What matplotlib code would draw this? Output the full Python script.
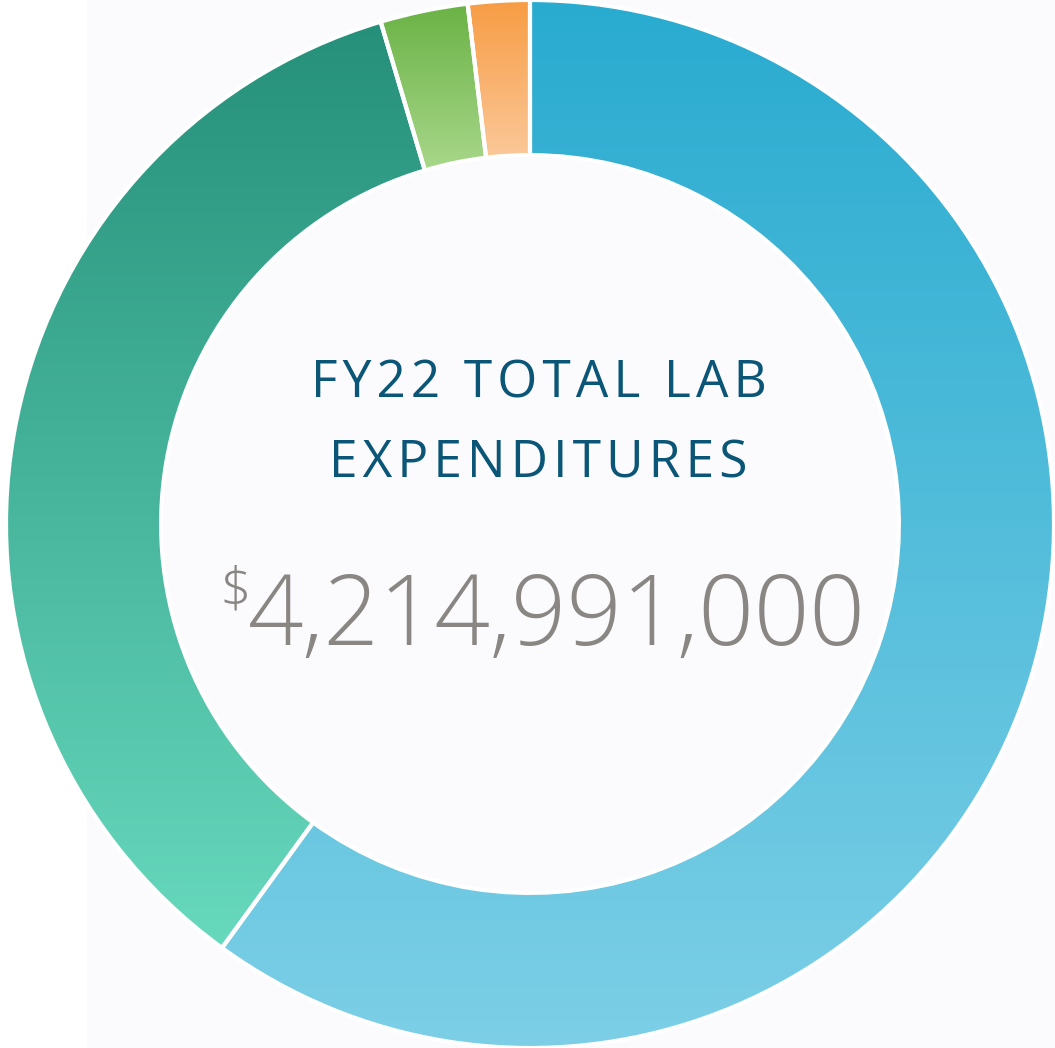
"""Donut chart: FY22 total lab expenditures, gradient-filled segments."""
import numpy as np
import matplotlib
matplotlib.use('Agg')
import matplotlib.pyplot as plt
from matplotlib.patches import Wedge, Rectangle
from matplotlib.colors import to_rgb

# Share of spending per segment (percent), clockwise from 12 o'clock
segments = ['Blue', 'Teal', 'Green', 'Orange']
shares = [60.0, 35.4, 2.7, 1.9]
# vertical gradient per segment: (top colour, bottom colour)
top_colors = ['#29abd0', '#26907a', '#6ab245', '#f79c44']
bottom_colors = ['#7ccfe6', '#67d9bd', '#a8d78a', '#fbc899']

title_lines = ['FY22 TOTAL LAB', 'EXPENDITURES']
total = '4,214,991,000'

BG = '#fbfbfe'
HAIR = '\u200a'  # hair space, used for letter spacing of the title


def spaced(s):
    return HAIR.join(s)


fig = plt.figure(figsize=(10.55, 10.48), dpi=100, facecolor=BG)
ax = fig.add_axes([0, 0, 1, 1])
ax.set_facecolor('none')
ax.axis('off')
# slightly whiter strip on the far left, as in the original export
ax.add_patch(Rectangle((0, 0), 87 / 1055, 1, transform=ax.transAxes,
                       facecolor='#ffffff', edgecolor='none', zorder=0))

r_outer = 1.0
ring = 0.296

fracs = np.array(shares) / np.sum(shares)
start = 0.0
for name, f, c_top, c_bot in zip(segments, fracs, top_colors, bottom_colors):
    end = start + f * 360
    w = Wedge((0, 0), r_outer, 90 - end, 90 - start, width=ring,
              facecolor='none', edgecolor='none')
    ax.add_patch(w)
    bb = w.get_path().get_extents()
    t = np.linspace(0, 1, 256)[:, None]
    grad = (1 - t) * np.array(to_rgb(c_top)) + t * np.array(to_rgb(c_bot))
    img = ax.imshow(grad[:, None, :], extent=(bb.x0, bb.x1, bb.y0, bb.y1),
                    origin='upper', aspect='auto', interpolation='bilinear',
                    zorder=2)
    img.set_clip_path(w)
    # white separator outline
    ax.add_patch(Wedge((0, 0), r_outer, 90 - end, 90 - start, width=ring,
                       facecolor='none', edgecolor='white', linewidth=3,
                       zorder=3))
    start = end

ax.set_xlim(-530 / 524, 525 / 524)
ax.set_ylim(-1.0, 1.0)

fam = ['Open Sans', 'DejaVu Sans']
title_color = '#0b5676'
ax.text(0.016, 0.242, spaced(title_lines[0]), ha='center', va='baseline',
        fontsize=37, color=title_color, family=fam)
ax.text(0.016, 0.088, spaced(title_lines[1]), ha='center', va='baseline',
        fontsize=37, color=title_color, family=fam)

num_color = '#8a8683'
ax.text(0.052, -0.231, total, ha='center', va='baseline', fontsize=70,
        color=num_color, fontweight='light', family=fam)
ax.text(-0.563, -0.158, '$', ha='center', va='baseline', fontsize=40,
        color=num_color, fontweight='light', family=fam)

fig.savefig('out.png', dpi=100, facecolor=BG)
